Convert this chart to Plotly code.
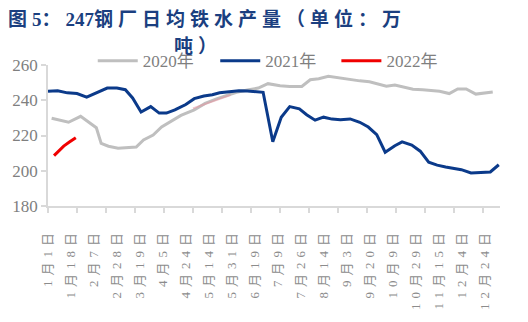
import plotly.graph_objects as go

# x positions are day-slots on the shared category axis (0 = 1月1日)
x_2020 = [3, 10, 17, 27, 33, 40, 44, 50, 58, 66, 73, 79, 87, 94, 102, 110, 121, 130, 140, 148,
          156, 165, 174, 182, 192, 200, 210, 217, 224, 232, 240, 250, 258, 266, 274, 280, 287,
          295, 302, 310, 317, 324, 332, 339, 346, 354, 368]
y_2020 = [229.8, 228.7, 227.5, 230.9, 227.8, 224.4, 215.5, 213.9, 212.8, 213.3, 213.5, 217.5,
          220.3, 224.9, 228.0, 231.4, 234.5, 238.2, 240.9, 242.7, 244.5, 245.8, 246.9, 249.4,
          248.2, 247.8, 247.8, 251.6, 252.2, 253.6, 252.7, 251.6, 251.0, 250.5, 249.3, 248.0,
          248.6, 247.4, 246.2, 245.9, 245.5, 245.1, 243.8, 246.4, 246.4, 243.5, 244.7]

x_2021 = [0, 8, 16, 24, 32, 41, 49, 57, 64, 70, 77, 85, 92, 98, 105, 114, 121, 129, 136, 142,
          151, 158, 165, 171, 178, 186, 193, 200, 208, 214, 221, 228, 235, 242, 250, 258, 265,
          272, 279, 287, 293, 301, 308, 315, 322, 329, 335, 342, 350, 358, 366, 373]
y_2021 = [245.1, 245.4, 244.2, 243.8, 241.8, 244.5, 246.9, 246.9, 246.0, 241.3, 233.3, 236.4,
          232.7, 232.7, 234.5, 237.6, 240.9, 242.4, 243.1, 244.2, 244.9, 245.4, 245.3, 245.1,
          244.5, 216.5, 230.3, 236.4, 235.1, 231.8, 228.7, 230.4, 229.3, 228.9, 229.4, 227.5,
          224.8, 220.5, 210.5, 214.2, 216.4, 214.6, 211.1, 204.9, 203.2, 202.1, 201.4, 200.6,
          198.7, 199.1, 199.3, 203.4]

x_2022 = [5, 9, 13, 18, 23]
y_2022 = [208.6, 211.3, 214.0, 216.4, 218.7]

# faint overlay segment along the 2020 curve in spring
x_faint = [120, 130, 140, 151]
y_faint = [235.4, 237.8, 240.6, 243.0]

tick_labels = ["1月1日", "1月18日", "2月7日", "2月28日", "3月19日", "4月5日", "4月24日",
               "5月14日", "5月31日", "6月19日", "7月9日", "7月26日", "8月14日", "9月3日",
               "9月20日", "10月9日", "10月29日", "11月15日", "12月4日", "12月24日"]
label_step = 19
mark_step = 24

SERIF = "Liberation Serif, Noto Sans CJK SC, serif"
GREY_TXT = "#7F7F7F"
AXIS_C = "#D9D9D9"

fig = go.Figure()
fig.add_trace(go.Scatter(x=x_2020, y=y_2020, mode="lines", name="2020年", legend="legend",
                         line=dict(color="#BFBFBF", width=3)))
fig.add_trace(go.Scatter(x=x_faint, y=y_faint, mode="lines", showlegend=False,
                         hoverinfo="skip", line=dict(color="rgba(232,150,160,0.55)", width=2)))
fig.add_trace(go.Scatter(x=x_2021, y=y_2021, mode="lines", name="2021年", legend="legend2",
                         line=dict(color="#0B3A8A", width=3)))
fig.add_trace(go.Scatter(x=x_2022, y=y_2022, mode="lines", name="2022年", legend="legend3",
                         line=dict(color="#F00000", width=3)))

spaced = [f'<span style="letter-spacing:5px">{t}</span>' for t in tick_labels]


def legend_box(xpos):
    return dict(orientation="h", x=xpos, xanchor="left", y=1.027, yanchor="middle",
                font=dict(family=SERIF, size=17, color=GREY_TXT),
                itemwidth=40, bgcolor="rgba(0,0,0,0)")


fig.update_layout(
    width=528, height=322,
    margin=dict(l=47, r=28, t=65, b=110),
    paper_bgcolor="white", plot_bgcolor="white",
    showlegend=True,
    legend=legend_box(0.099),
    legend2=legend_box(0.370),
    legend3=legend_box(0.638),
    xaxis=dict(range=[0, 374], showgrid=False, zeroline=False,
               showline=True, linecolor=AXIS_C, linewidth=1.5,
               tickmode="array", tickvals=[i * label_step for i in range(len(tick_labels))],
               ticktext=spaced, tickangle=-90,
               ticks="outside", ticklen=15, tickcolor="rgba(0,0,0,0)",
               tickfont=dict(family=SERIF, size=13, color="#8C8C8C"),
               minor=dict(ticks="outside", ticklen=5, tickwidth=1.5, tickcolor=AXIS_C,
                          tick0=0, dtick=mark_step, showgrid=False)),
    yaxis=dict(range=[180, 260], dtick=20, showgrid=False, zeroline=False,
               showline=True, linecolor=AXIS_C, linewidth=1.5,
               ticks="outside", ticklen=5, tickwidth=1.5, tickcolor=AXIS_C,
               tickfont=dict(family=SERIF, size=17, color=GREY_TXT)),
)

title_font = dict(family="Liberation Serif, Noto Sans CJK SC", size=19, color="#1B3F80")
title_line1 = ('<b><span style="letter-spacing:5px">图</span>5'
               '<span style="letter-spacing:5px">：</span>247'
               '<span style="letter-spacing:5px">钢厂日均铁水产量（单位：万</span></b>')
title_line2 = '<b><span style="letter-spacing:5px">吨）</span></b>'
fig.add_annotation(text=title_line1, xref="paper", yref="paper", x=-0.093, y=1.327,
                   xanchor="left", yanchor="middle", showarrow=False, font=title_font)
fig.add_annotation(text=title_line2, xref="paper", yref="paper", x=0.331, y=1.129,
                   xanchor="center", yanchor="middle", showarrow=False, font=title_font)

fig.write_html("out.html")
